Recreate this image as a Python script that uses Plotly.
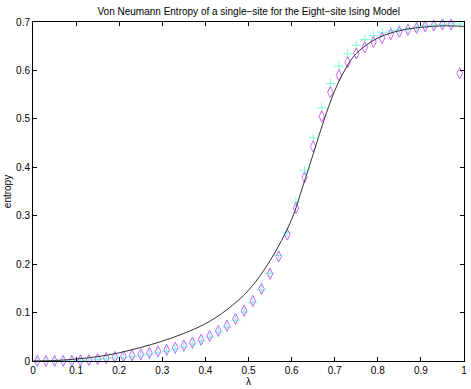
import plotly.graph_objects as go

# sample points (lambda) for the two numerical series
lam = [0.01, 0.03, 0.05, 0.07, 0.09, 0.11, 0.13, 0.15, 0.17, 0.19,
       0.21, 0.23, 0.25, 0.27, 0.29, 0.31, 0.33, 0.35, 0.37, 0.39,
       0.41, 0.43, 0.45, 0.47, 0.49, 0.51, 0.53, 0.55, 0.57, 0.59,
       0.61, 0.63, 0.65, 0.67, 0.69, 0.71, 0.73, 0.75, 0.77, 0.79,
       0.81, 0.83, 0.85, 0.87, 0.89, 0.91, 0.93, 0.95, 0.97, 0.99]

entropy_diamond = [0.0, 0.0, 0.0, 0.0, 0.0005, 0.001, 0.002, 0.004, 0.006, 0.008,
                   0.0095, 0.0116, 0.0137, 0.0165, 0.020, 0.023, 0.0275, 0.032, 0.038, 0.044,
                   0.052, 0.0626, 0.073, 0.087, 0.104, 0.124, 0.149, 0.180, 0.216, 0.261,
                   0.316, 0.379, 0.443, 0.505, 0.555, 0.590, 0.617, 0.635, 0.648, 0.659,
                   0.667, 0.675, 0.680, 0.684, 0.688, 0.691, 0.693, 0.695, 0.695, 0.594]

entropy_plus = [0.0, 0.0, 0.0, 0.0, 0.0005, 0.001, 0.002, 0.003, 0.005, 0.006,
                0.0065, 0.0086, 0.0107, 0.0135, 0.017, 0.020, 0.0245, 0.029, 0.035, 0.041,
                0.049, 0.0596, 0.070, 0.084, 0.101, 0.121, 0.147, 0.181, 0.218, 0.266,
                0.328, 0.393, 0.461, 0.523, 0.573, 0.609, 0.634, 0.652, 0.664, 0.672,
                0.678, 0.682, 0.685, 0.687, 0.690, 0.692, 0.694, 0.695, 0.696, 0.696]

# smooth reference curve
curve_x = [0, 0.05, 0.1, 0.15, 0.2, 0.25, 0.3, 0.35, 0.4, 0.45, 0.5, 0.55, 0.6,
           0.625, 0.65, 0.675, 0.7, 0.725, 0.75, 0.8, 0.85, 0.9, 0.95, 1.0]
curve_y = [0, 0.001, 0.004, 0.009, 0.017, 0.028, 0.041, 0.057, 0.077, 0.106, 0.146,
           0.207, 0.292, 0.358, 0.427, 0.497, 0.558, 0.603, 0.635, 0.667, 0.682,
           0.689, 0.692, 0.691]

xticks = [0, 0.1, 0.2, 0.3, 0.4, 0.5, 0.6, 0.7, 0.8, 0.9, 1]
xticklabels = ["0", "0.1", "0.2", "0.3", "0.4", "0.5", "0.6", "0.7", "0.8", "0.9", "1"]
yticks = [0, 0.1, 0.2, 0.3, 0.4, 0.5, 0.6, 0.7]
yticklabels = ["0", "0.1", "0.2", "0.3", "0.4", "0.5", "0.6", "0.7"]

font = "Liberation Sans, Arial, sans-serif"

fig = go.Figure()
fig.add_trace(go.Scatter(x=lam, y=entropy_plus, mode='markers', cliponaxis=False,
                         marker=dict(symbol='cross-thin-open', size=7, color='#80ffdd',
                                     line=dict(color='#80ffdd', width=1))))
fig.add_trace(go.Scatter(x=lam, y=entropy_diamond, mode='markers', cliponaxis=False,
                         marker=dict(symbol='diamond-tall-open', size=8, color='#cc66ff',
                                     line=dict(color='#cc66ff', width=1))))
fig.add_trace(go.Scatter(x=curve_x, y=curve_y, mode='lines', line_shape='spline',
                         line=dict(color='#333333', width=1)))

axis_common = dict(showline=True, linecolor='black', linewidth=1, mirror='ticks',
                   ticks='inside', ticklen=4, tickcolor='black', showgrid=False,
                   zeroline=False, automargin=False,
                   tickfont=dict(size=10, color='black', family=font))

fig.update_xaxes(range=[0, 1], tickvals=xticks, ticktext=xticklabels,
                 title=dict(text='λ', font=dict(size=10, color='black', family=font), standoff=0),
                 **axis_common)
fig.update_yaxes(range=[0, 0.7], tickvals=yticks, ticktext=yticklabels,
                 title=dict(text='entropy', font=dict(size=10, color='black', family=font), standoff=2),
                 **axis_common)

fig.update_layout(
    width=471, height=389,
    margin=dict(l=33, r=7, t=22, b=28),
    paper_bgcolor='white', plot_bgcolor='white',
    showlegend=False,
    title=dict(text='Von Neumann Entropy of a single\u2212site for the Eight\u2212site Ising Model',
               x=0.528, xanchor='center', y=1 - 11 / 389, yanchor='middle',
               font=dict(size=10, color='black', family=font)),
)

# drop the default page margin so the figure sits at the window corner
fig.write_html("out.html", config={'displayModeBar': False},
               post_script="document.body.style.margin='0';")
